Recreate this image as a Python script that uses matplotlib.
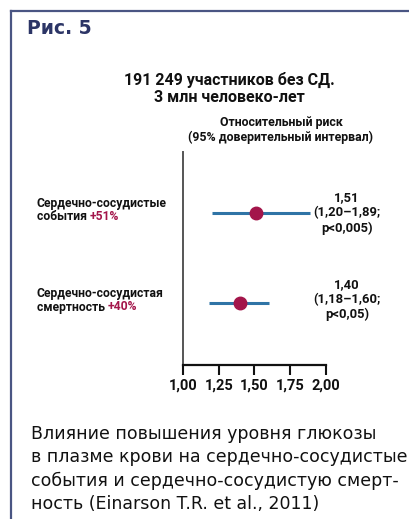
import matplotlib.pyplot as plt
from matplotlib.lines import Line2D

# данные: относительный риск и 95% ДИ
outcomes = ["Сердечно-сосудистые\nсобытия", "Сердечно-сосудистая\nсмертность"]
increase = ["+51%", "+40%"]
rr = [1.51, 1.40]
ci_low = [1.20, 1.18]
ci_high = [1.89, 1.60]
p_text = ["p<0,005", "p<0,05"]
xticks = [1.00, 1.25, 1.50, 1.75, 2.00]

W, H = 410, 519
narrow = ['Roboto', 'DejaVu Sans']
plain = ['DejaVu Sans']
navy = '#2c3566'
crimson = '#a3154a'
blue = '#2f74a6'
wt = 'bold'

def fx(px):
    return px / W

def fy(py):
    return 1 - py / H

fig = plt.figure(figsize=(W / 100, H / 100), dpi=100)

# рамка рисунка
fig.add_artist(Line2D([fx(11), fx(11)], [fy(11), fy(519)], color='#4a5583', lw=1.6))
fig.add_artist(Line2D([fx(11), fx(410)], [fy(11), fy(11)], color='#4a5583', lw=1.6))

fig.text(fx(27), fy(28), "Рис. 5", fontsize=13.5, fontweight='heavy', color=navy,
         family=plain, va='center', ha='left')

fig.text(fx(229), fy(80), "191 249 участников без СД.", fontsize=11.5, color='#111111',
         family=narrow, ha='center', va='center', fontweight=wt)
fig.text(fx(229), fy(98), "3 млн человеко-лет", fontsize=11.5, color='#111111',
         family=narrow, ha='center', va='center', fontweight=wt)
fig.text(fx(281), fy(123), "Относительный риск", fontsize=8.9, color='#111111',
         family=narrow, ha='center', va='center', fontweight=wt)
fig.text(fx(281), fy(137), "(95% доверительный интервал)", fontsize=8.9, color='#111111',
         family=narrow, ha='center', va='center', fontweight=wt)

# ось графика
ax = fig.add_axes([fx(183), fy(365), (326 - 183) / W, (365 - 152) / H])
ax.set_xlim(1.0, 2.0)
ax.set_ylim(1.689, -0.678)
for s in ['top', 'right']:
    ax.spines[s].set_visible(False)
ax.spines['left'].set_color('#555555')
ax.spines['left'].set_linewidth(1.4)
ax.spines['bottom'].set_color('#111111')
ax.spines['bottom'].set_linewidth(1.6)
ax.set_yticks([])
ax.set_xticks(xticks)
ax.set_xticklabels([f"{t:.2f}".replace('.', ',') for t in xticks],
                   fontsize=10.5, family=narrow, fontweight=wt)
ax.tick_params(axis='x', direction='out', length=7, width=1.5, pad=3, colors='#111111')
ax.patch.set_alpha(0)

label_shift = [0.0, -0.04]
for i in range(len(rr)):
    ax.plot([ci_low[i], ci_high[i]], [i, i], color=blue, lw=2.2, solid_capstyle='butt')
    ax.plot(rr[i], i, 'o', color=crimson, ms=9, zorder=3)
    ax.text(1.0 + (347 - 183) / 143, i + label_shift[i],
            f"{rr[i]:.2f}".replace('.', ',') + "\n" +
            f"({ci_low[i]:.2f}–{ci_high[i]:.2f};".replace('.', ',') + "\n" +
            p_text[i] + ")",
            fontsize=9.4, family=narrow, fontweight=wt, ha='center', va='center',
            linespacing=1.2, color='#111111', clip_on=False)

# подписи строк слева
row_py = [203, 293]
for i in range(len(outcomes)):
    first, second = outcomes[i].split("\n")
    fig.text(fx(37), fy(row_py[i]), first, fontsize=8.7, family=narrow,
             fontweight=wt, color='#111111', va='center', ha='left')
    t = fig.text(fx(37), fy(row_py[i] + 14), second + " ", fontsize=8.7, family=narrow,
                 fontweight=wt, color='#111111', va='center', ha='left')
    fig.canvas.draw()
    bb = t.get_window_extent()
    fig.text(bb.x1 / fig.dpi / fig.get_figwidth(), fy(row_py[i] + 14), increase[i],
             fontsize=8.7, family=narrow, fontweight=wt, color=crimson,
             va='center', ha='left')

caption = ["Влияние повышения уровня глюкозы",
           "в плазме крови на сердечно-сосудистые",
           "события и сердечно-сосудистую смерт-",
           "ность (Einarson T.R. et al., 2011)"]
for k, line in enumerate(caption):
    fig.text(fx(31), fy(434 + k * 23.2), line, fontsize=12.5, family=plain,
             color='#111111', va='center', ha='left')

fig.savefig("out.png", dpi=100)
